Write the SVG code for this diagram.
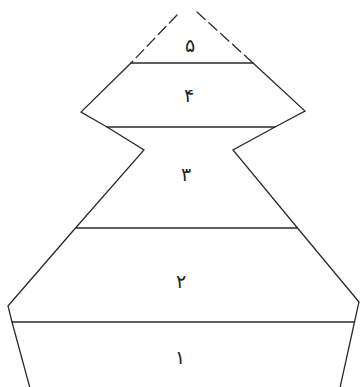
<svg xmlns="http://www.w3.org/2000/svg" width="360" height="387" viewBox="0 0 360 387">
<style>
.ln{fill:none;stroke:#2b2b2b;stroke-width:1.3;stroke-linecap:round;stroke-linejoin:miter}
.dash{stroke-dasharray:11,5}
.lbl{font-family:"DejaVu Sans","Noto Sans",sans-serif;font-size:19px;fill:#222;text-anchor:middle}
</style>
<rect width="360" height="387" fill="#fff"/>
<g id="layer5">
<path class="ln dash" d="M177,15 L131,63"/>
<path class="ln dash" d="M197,12 L253,63"/>
<path class="ln" d="M131,63 L253,63"/>
<text class="lbl" x="190" y="52">۵</text>
</g>
<g id="layer4">
<path class="ln" d="M131,63 L81,112 L107,127 M253,63 L305,111 L275,127 M107,127 L275,127"/>
<text class="lbl" x="189" y="102">۴</text>
</g>
<g id="layer3">
<path class="ln" d="M107,127 L144,150 L75.5,228 M275,127 L233,150 L297.5,228 M75.5,228 L297.5,228"/>
<text class="lbl" x="186" y="181">۳</text>
</g>
<g id="layer2">
<path class="ln" d="M75.5,228 L8,306 L12,322 M297.5,228 L359,302 L354.5,322 M12,322 L354.5,322"/>
<text class="lbl" x="181" y="288">۲</text>
</g>
<g id="layer1">
<path class="ln" d="M12,322 L30.5,390 M354.5,322 L339.5,390"/>
<text class="lbl" x="180" y="364">۱</text>
</g>
</svg>
